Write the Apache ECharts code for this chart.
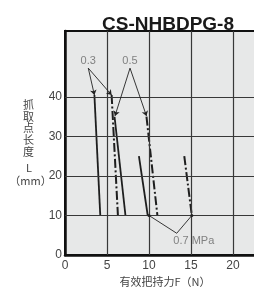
<!DOCTYPE html>
<html>
<head>
<meta charset="utf-8">
<script src="https://cdn.jsdelivr.net/npm/echarts@6/dist/echarts.min.js"></script>
<style>
html,body{margin:0;padding:0;background:#fff}
#chart{width:254px;height:291px}
</style>
</head>
<body>
<div id="chart"></div>
<script>
// axis ticks
const xTicks = [0, 5, 10, 15, 20]
const yTicks = [0, 10, 20, 30, 40]
const gridX = [5, 10, 15, 20]
const gridY = [10, 20, 30, 40]

// grip length L vs effective force F, per pressure (solid / dash-dot)
const p03Solid = [[3.5, 40.5], [4.2, 10]]
const p03Dash = [[5.55, 40.5], [6.3, 10]]
const p05Solid = [[5.9, 35], [7.2, 10]]
const p05Dash = [[9.7, 35], [11.0, 10]]
const p07Solid = [[8.8, 25], [9.85, 10]]
const p07Dash = [[14.2, 25], [15.1, 10]]

// pressure callouts
const calloutNames = ['0.3', '0.5', '0.7 MPa']
const calloutPos = [[2.77, 49.2], [7.74, 49.2], [15.33, 3.6]]
const arrowFrom = [[2.77, 47.3], [7.74, 47.3]]
const arrowTo = [[[3.5, 40.5], [5.55, 40.5]], [[5.95, 35.2], [9.7, 35.2]]]
const mpaLink = [[10, 10], [13.3, 5.5], [15.1, 10]]

// y axis name, one glyph per row
const yNameChars = ['抓', '取', '点', '长', '度']

const chart = echarts.init(document.getElementById('chart'))

const solidStyle = {color: '#1e1e1e', width: 1.8}
const dashStyle = {color: '#1e1e1e', width: 2, type: [9, 2.5, 2, 2.5]}
const nameFont = {fontFamily: 'Noto Sans CJK SC', fontSize: 11, fill: '#444', align: 'center', verticalAlign: 'middle'}

const dataLine = (data, style) => ({
    type: 'line',
    data: data,
    symbol: 'none',
    lineStyle: style,
    z: 4,
    silent: true
})

const arrowData = []
arrowFrom.forEach((from, i) => {
    arrowTo[i].forEach(to => {
        arrowData.push([{coord: from}, {coord: to}])
    })
})

const yNameGraphics = yNameChars.map((c, i) => ({
    type: 'text',
    style: Object.assign({text: c, x: 28.5, y: 105 + i * 11.6}, nameFont)
}))

const option = {
    animation: false,
    title: {
        text: 'CS-NHBDPG-8',
        left: 163,
        top: 10,
        textAlign: 'center',
        textStyle: {fontFamily: 'Liberation Sans', fontWeight: 'bold', fontSize: 19, color: '#1a1a1a'}
    },
    grid: {
        left: 65, top: 31, bottom: 36, right: -21,
        containLabel: false,
        outerBoundsMode: 'none',
        show: true,
        backgroundColor: '#e7e8e8',
        borderColor: '#111',
        borderWidth: 2
    },
    xAxis: {
        type: 'value',
        min: 0, max: 25, interval: 5,
        axisLine: {show: true, onZero: false, lineStyle: {color: '#111', width: 2.5}},
        axisTick: {show: false},
        splitLine: {show: false},
        axisLabel: {
            customValues: xTicks,
            margin: 5,
            fontFamily: 'Liberation Sans', fontSize: 12, color: '#444'
        }
    },
    yAxis: {
        type: 'value',
        min: 0, max: 56.7, interval: 10,
        axisLine: {show: true, onZero: false, lineStyle: {color: '#111', width: 2.5}},
        axisTick: {show: false},
        splitLine: {show: false},
        axisLabel: {
            customValues: yTicks,
            margin: 3,
            fontFamily: 'Liberation Sans', fontSize: 12, color: '#444'
        }
    },
    graphic: yNameGraphics.concat([
        {type: 'text', style: Object.assign({text: 'L', x: 29, y: 168}, nameFont)},
        {type: 'text', style: Object.assign({text: '（mm）', x: 30.5, y: 180.5}, nameFont)},
        {type: 'text', style: Object.assign({text: '有效把持力F（N）', x: 165, y: 281.5}, nameFont)}
    ]),
    series: [
        {
            type: 'line',
            data: [],
            silent: true,
            markLine: {
                silent: true,
                symbol: 'none',
                label: {show: false},
                lineStyle: {color: '#383838', width: 1.2, type: 'solid'},
                data: gridX.map(v => ({xAxis: v})).concat(gridY.map(v => ({yAxis: v})))
            }
        },
        dataLine(p03Solid, solidStyle),
        dataLine(p03Dash, dashStyle),
        dataLine(p05Solid, solidStyle),
        dataLine(p05Dash, dashStyle),
        dataLine(p07Solid, solidStyle),
        dataLine(p07Dash, dashStyle),
        {
            type: 'line',
            data: [],
            silent: true,
            markLine: {
                silent: true,
                symbol: ['none', 'arrow'],
                symbolSize: 5,
                label: {show: false},
                lineStyle: {color: '#222', width: 0.9, type: 'solid'},
                data: arrowData
            },
            z: 5
        },
        {
            type: 'line',
            data: mpaLink,
            symbol: (v, p) => p.dataIndex === 1 ? 'none' : 'circle',
            symbolSize: 3,
            itemStyle: {color: '#222'},
            lineStyle: {color: '#222', width: 0.9},
            z: 5,
            silent: true
        },
        {
            type: 'scatter',
            data: calloutNames.map((n, i) => ({name: n, value: calloutPos[i]})),
            symbolSize: 1,
            itemStyle: {color: 'rgba(0,0,0,0)'},
            label: {
                show: true, position: 'inside', formatter: '{b}',
                fontFamily: 'Liberation Sans', fontSize: 11, color: '#666'
            },
            z: 6,
            silent: true
        }
    ]
}
chart.setOption(option)
</script>
</body>
</html>
